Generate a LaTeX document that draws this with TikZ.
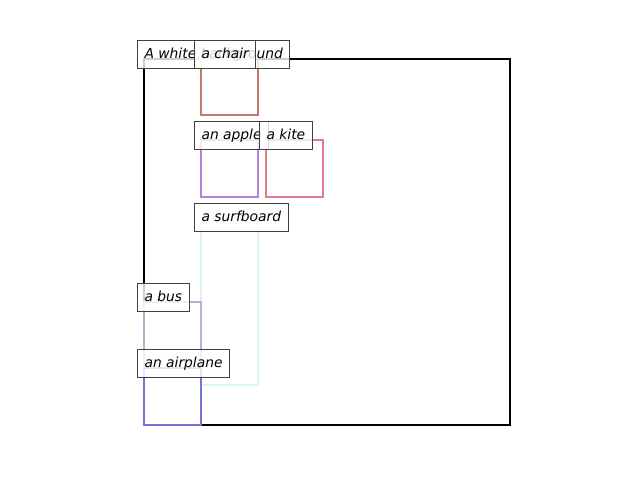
\documentclass[tikz,border=0pt]{standalone}
\usepackage{fontspec}
\setmainfont{DejaVu Sans}
\usetikzlibrary{positioning}

\definecolor{chaircol}{HTML}{C4786A}
\definecolor{applecol}{HTML}{B482DC}
\definecolor{kitecol}{HTML}{E07C8C}
\definecolor{surfcol}{HTML}{DCF4F0}
\definecolor{buscol}{HTML}{B8B0D0}
\definecolor{planecol}{HTML}{7474D4}

\begin{document}
\begin{tikzpicture}[x=0.01in, y=-0.01in,
    bbox/.style={line width=1.6pt},
    lbl/.style={draw=black!75, line width=0.75pt, fill=white, fill opacity=0.8,
        text opacity=1, font=\itshape, inner sep=5pt, text height=8pt,
        text depth=2pt, anchor=south west, xshift=-5pt, yshift=-7pt}]
    \useasboundingbox (0,0) rectangle (640,480);
    % whole image
    \draw[line width=1.6pt] (144,59) rectangle (510,425);
    % box corners
    \coordinate (bg) at (144,59);
    \coordinate (chair) at (201,59);
    \coordinate (apple) at (201,140);
    \coordinate (kite) at (266,140);
    \coordinate (surf) at (201,222);
    \coordinate (bus) at (144,302);
    \coordinate (plane) at (144,368);
    % boxes
    \draw[bbox, chaircol] (chair) rectangle (258,115);
    \draw[bbox, applecol] (apple) rectangle (258,197);
    \draw[bbox, kitecol] (kite) rectangle (323,197);
    \draw[bbox, surfcol] (surf) rectangle (258,385);
    \draw[bbox, buscol] (bus) rectangle (201,425);
    \draw[bbox, planecol] (plane) rectangle (201,425);
    % labels
    \node[lbl] (bglbl) at (bg) {A white background};
    \node[lbl] (chairlbl) at (chair) {a chair};
    \node[lbl] (applelbl) at (apple) {an apple};
    \node[lbl] (kitelbl) at (kite) {a kite};
    \node[lbl] (surflbl) at (surf) {a surfboard};
    \node[lbl] (buslbl) at (bus) {a bus};
    \node[lbl] (planelbl) at (plane) {an airplane};
\end{tikzpicture}
\end{document}
